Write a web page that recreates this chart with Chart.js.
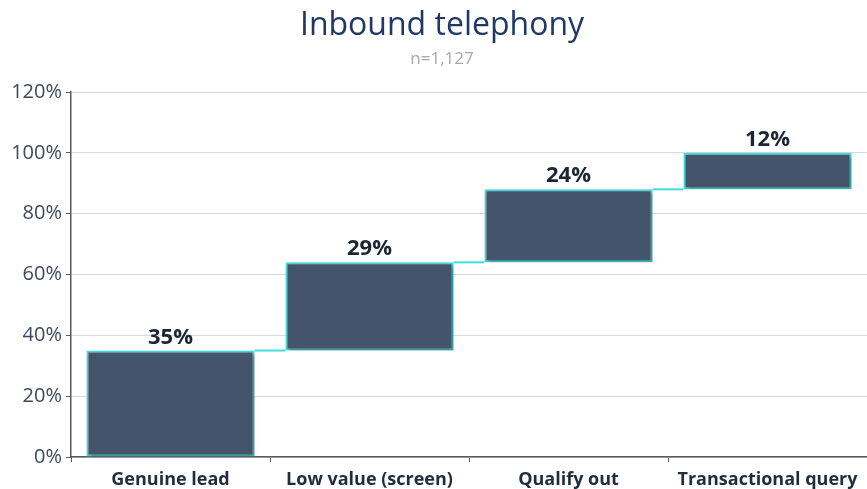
<!DOCTYPE html>
<html>
<head>
<meta charset="utf-8">
<script src="https://cdn.jsdelivr.net/npm/chart.js@4"></script>
<style>
  html, body { margin: 0; padding: 0; background: #ffffff; }
  #wrap { width: 867px; height: 489px; position: relative; }
</style>
</head>
<body>
<div id="wrap"><canvas id="c" width="867" height="489"></canvas></div>
<script>
const categories = ["Genuine lead", "Low value (screen)", "Qualify out", "Transactional query"];
const stepValues = [35, 29, 24, 12];
const stepLabels = ["35%", "29%", "24%", "12%"];
const yTicks = [0, 20, 40, 60, 80, 100, 120];
const titleText = "Inbound telephony";
const subtitleText = "n=1,127";

// floating ranges built from the step values
const ranges = [];
let acc = 0;
for (const v of stepValues) { ranges.push([acc, acc + v]); acc += v; }

const BAR = "#44546A";
const EDGE = "#40DEDE";

const shadowPlugin = {
  id: "barShadow",
  beforeDatasetsDraw(chart) {
    const ctx = chart.ctx;
    ctx.save();
    ctx.shadowColor = "rgba(0,0,0,0.35)";
    ctx.shadowBlur = 4;
    ctx.shadowOffsetX = 2;
    ctx.shadowOffsetY = 2;
  },
  afterDatasetsDraw(chart) {
    chart.ctx.restore();
  }
};

const headerPlugin = {
  id: "header",
  afterDraw(chart) {
    const ctx = chart.ctx;
    ctx.save();
    ctx.textAlign = "center";
    ctx.textBaseline = "middle";
    ctx.fillStyle = "#1F3864";
    ctx.font = "32px 'Open Sans', sans-serif";
    ctx.fillText(titleText, 442, 26);
    ctx.fillStyle = "#A8A8A8";
    ctx.font = "17px 'Open Sans', sans-serif";
    ctx.fillText(subtitleText, 442, 59);
    ctx.restore();
  }
};

const overlayPlugin = {
  id: "overlay",
  afterDatasetsDraw(chart) {
    const ctx = chart.ctx;
    const meta = chart.getDatasetMeta(0);
    const y = chart.scales.y;
    ctx.save();
    // connectors
    ctx.strokeStyle = EDGE;
    ctx.lineWidth = 2;
    for (let i = 0; i < meta.data.length - 1; i++) {
      const a = meta.data[i], b = meta.data[i + 1];
      const yy = y.getPixelForValue(ranges[i][1]);
      ctx.beginPath();
      ctx.moveTo(a.x + a.width / 2, yy);
      ctx.lineTo(b.x - b.width / 2, yy);
      ctx.stroke();
    }
    // value labels
    ctx.fillStyle = "#1B2633";
    ctx.font = "bold 22px 'Open Sans', sans-serif";
    ctx.textAlign = "center";
    ctx.textBaseline = "alphabetic";
    meta.data.forEach((el, i) => {
      const top = y.getPixelForValue(ranges[i][1]);
      ctx.fillText(stepLabels[i], el.x, top - 7);
    });
    ctx.restore();
  }
};

new Chart(document.getElementById("c"), {
  type: "bar",
  data: {
    labels: categories,
    datasets: [{
      data: ranges,
      backgroundColor: BAR,
      borderColor: EDGE,
      borderWidth: 2,
      borderSkipped: false,
      barPercentage: 0.845,
      categoryPercentage: 1.0
    }]
  },
  options: {
    responsive: false,
    animation: false,
    layout: { padding: { left: 1, right: 0, top: 92, bottom: 0 } },
    plugins: {
      legend: { display: false },
      tooltip: { enabled: false },
      title: { display: false },
      subtitle: { display: false }
    },
    scales: {
      x: {
        grid: {
          display: true,
          drawOnChartArea: false,
          drawTicks: true,
          tickLength: 5,
          color: "#595959",
          offset: true
        },
        border: { display: true, color: "#595959", width: 1.5 },
        ticks: {
          color: "#1F2D3D",
          font: { family: "'Open Sans', sans-serif", size: 18, weight: "bold" },
          padding: 7,
          maxRotation: 0
        },
        afterFit(scale) { scale.height = 32; }
      },
      y: {
        min: 0,
        max: 120,
        afterBuildTicks(scale) { scale.ticks = yTicks.map(v => ({ value: v })); },
        grid: {
          color: "#D9D9D9",
          lineWidth: 1,
          drawTicks: true,
          tickLength: 5,
          tickColor: "#595959"
        },
        border: { display: true, color: "#595959", width: 1.5 },
        ticks: {
          color: "#3B4A5C",
          font: { family: "'Open Sans', sans-serif", size: 20 },
          padding: 4,
          callback: v => v + "%"
        },
        afterFit(scale) { scale.width = 70; }
      }
    }
  },
  plugins: [shadowPlugin, overlayPlugin, headerPlugin]
});
</script>
</body>
</html>
